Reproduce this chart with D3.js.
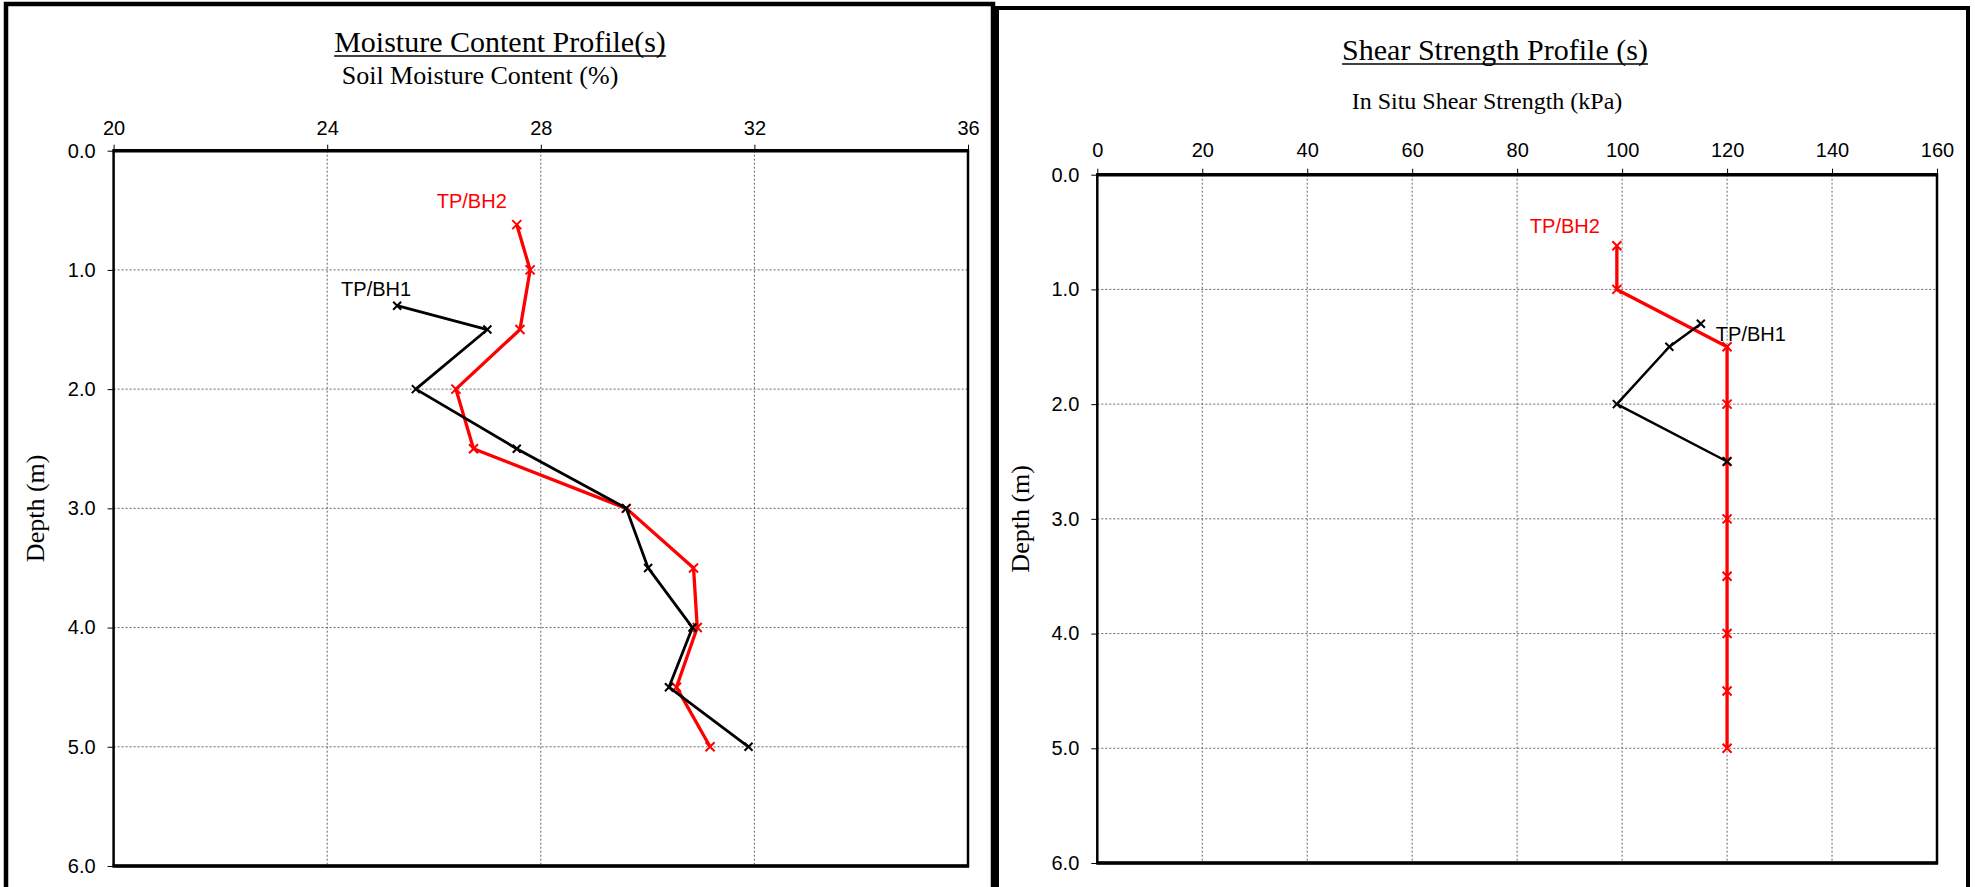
<!DOCTYPE html>
<html>
<head>
<meta charset="utf-8">
<script src="https://cdn.jsdelivr.net/npm/d3@7"></script>
<style>
  body { margin: 0; background: #fff; }
  svg { display: block; }
  .tick text { font-family: "Liberation Sans", Arial, sans-serif; font-size: 20px; fill: #000; }
  .tick line { stroke: #000; stroke-width: 1; }
</style>
</head>
<body>
<svg id="chart"></svg>
<script>
// moisture content profiles (depth in m, moisture in %)
var moistDepthBH1 = [1.3, 1.5, 2.0, 2.5, 3.0, 3.5, 4.0, 4.5, 5.0];
var moistBH1 = [25.31, 27.0, 25.66, 27.55, 29.6, 30.01, 30.84, 30.4, 31.89];
var moistDepthBH2 = [0.62, 1.0, 1.5, 2.0, 2.5, 3.0, 3.5, 4.0, 4.5, 5.0];
var moistBH2 = [27.55, 27.8, 27.61, 26.41, 26.74, 29.6, 30.86, 30.93, 30.54, 31.17];

// shear strength profiles (depth in m, strength in kPa)
var shearDepthBH1 = [1.3, 1.5, 2.0, 2.5];
var shearBH1 = [115, 109, 99, 120];
var shearDepthBH2 = [0.62, 1.0, 1.5, 2.0, 2.5, 3.0, 3.5, 4.0, 4.5, 5.0];
var shearBH2 = [99, 99, 120, 120, 120, 120, 120, 120, 120, 120];

var moistTicks = [20, 24, 28, 32, 36];
var shearTicks = [0, 20, 40, 60, 80, 100, 120, 140, 160];
var depthTicks = [0, 1, 2, 3, 4, 5, 6];

const W = 1975, H = 887;
const svg = d3.select("#chart").attr("width", W).attr("height", H);

// panel frames
svg.append("rect").attr("x", 6).attr("y", 4).attr("width", 987).attr("height", 1000)
  .attr("fill", "none").attr("stroke", "#000").attr("stroke-width", 4.5);
svg.append("rect").attr("x", 997).attr("y", 8).attr("width", 971).attr("height", 1000)
  .attr("fill", "none").attr("stroke", "#000").attr("stroke-width", 4);

function zip(xs, ys) {
  return xs.map(function (v, i) { return { v: v, d: ys[i] }; });
}

function drawProfile(opt) {
  var x = d3.scaleLinear().domain(opt.xDomain).range([opt.left, opt.right]);
  var y = d3.scaleLinear().domain([0, 6]).range([opt.top, opt.bottom]);
  var g = svg.append("g");

  // dotted grid
  g.selectAll("line.vgrid").data(opt.xTicks.slice(1, -1)).enter().append("line")
    .attr("x1", d => x(d)).attr("x2", d => x(d))
    .attr("y1", opt.top).attr("y2", opt.bottom)
    .attr("stroke", "#666").attr("stroke-width", 1).attr("stroke-dasharray", "2,2");
  g.selectAll("line.hgrid").data(depthTicks.slice(1, -1)).enter().append("line")
    .attr("x1", opt.left).attr("x2", opt.right)
    .attr("y1", d => y(d)).attr("y2", d => y(d))
    .attr("stroke", "#666").attr("stroke-width", 1).attr("stroke-dasharray", "2,2");

  // axes
  var xa = g.append("g").attr("transform", "translate(0," + opt.top + ")")
    .call(d3.axisTop(x).tickValues(opt.xTicks).tickSize(6).tickPadding(opt.xPad).tickFormat(d3.format("d")));
  xa.select(".domain").remove();
  var ya = g.append("g").attr("transform", "translate(" + opt.left + ",0)")
    .call(d3.axisLeft(y).tickValues(depthTicks).tickSize(6).tickPadding(12).tickFormat(d3.format(".1f")));
  ya.select(".domain").remove();

  // plot frame
  g.append("rect").attr("x", opt.left).attr("y", opt.top)
    .attr("width", opt.right - opt.left).attr("height", opt.bottom - opt.top)
    .attr("fill", "none").attr("stroke", "#000").attr("stroke-width", 2.5);
  [opt.top, opt.bottom].forEach(function (yy) {
    g.append("line").attr("x1", opt.left - 1).attr("x2", opt.right + 1)
      .attr("y1", yy).attr("y2", yy).attr("stroke", "#000").attr("stroke-width", 3.5);
  });

  // titles (underline drawn as a plain line so descenders don't break it)
  var title = g.append("text").attr("x", opt.titleX).attr("y", opt.titleY)
    .attr("text-anchor", "middle")
    .style("font-family", "'Liberation Serif', 'Times New Roman', serif").style("font-size", "30px")
    .text(opt.title);
  var tb = title.node().getBBox();
  g.append("line").attr("x1", tb.x).attr("x2", tb.x + tb.width)
    .attr("y1", opt.titleY + 4).attr("y2", opt.titleY + 4)
    .attr("stroke", "#000").attr("stroke-width", 1.6);
  g.append("text").attr("x", opt.subX).attr("y", opt.subY)
    .attr("text-anchor", "middle")
    .style("font-family", "'Liberation Serif', 'Times New Roman', serif").style("font-size", opt.subSize + "px")
    .text(opt.subtitle);
  g.append("text")
    .attr("transform", "translate(" + opt.depthX + "," + ((opt.top + opt.bottom) / 2) + ") rotate(-90)")
    .attr("text-anchor", "middle").attr("dy", "0.35em")
    .style("font-family", "'Liberation Serif', 'Times New Roman', serif").style("font-size", "26px")
    .text("Depth (m)");

  var line = d3.line().x(p => x(p.v)).y(p => y(p.d));

  opt.series.forEach(function (s) {
    var pts = zip(s.values, s.depths);
    g.append("path").datum(pts).attr("d", line)
      .attr("fill", "none").attr("stroke", s.color).attr("stroke-width", s.width)
      .attr("stroke-linejoin", "round");
    g.selectAll(null).data(pts).enter().append("path")
      .attr("d", function (p) {
        var cx = x(p.v), cy = y(p.d), r = s.marker;
        return "M" + (cx - r) + "," + (cy - r) + "L" + (cx + r) + "," + (cy + r) +
          "M" + (cx - r) + "," + (cy + r) + "L" + (cx + r) + "," + (cy - r);
      })
      .attr("stroke", s.color).attr("stroke-width", 2).attr("fill", "none");
    var p0 = pts[0];
    g.append("text").attr("x", x(p0.v) + s.lx).attr("y", y(p0.d) + s.ly)
      .attr("text-anchor", s.anchor).attr("dy", "0.35em")
      .style("font-family", "'Liberation Sans', Arial, sans-serif").style("font-size", "20px")
      .attr("fill", s.color)
      .text(s.name);
  });
}

drawProfile({
  xDomain: [20, 36], xTicks: moistTicks, xPad: 10,
  left: 113.6, right: 968, top: 150.7, bottom: 866,
  title: "Moisture Content Profile(s)", titleX: 500, titleY: 52,
  subtitle: "Soil Moisture Content (%)", subX: 480, subY: 84, subSize: 26,
  depthX: 35,
  series: [
    { name: "TP/BH2", values: moistBH2, depths: moistDepthBH2, color: "#ff0000", width: 3.3, marker: 4.5, lx: -10, ly: -24, anchor: "end" },
    { name: "TP/BH1", values: moistBH1, depths: moistDepthBH1, color: "#000000", width: 2.8, marker: 4, lx: 14, ly: -17, anchor: "end" }
  ]
});

drawProfile({
  xDomain: [0, 160], xTicks: shearTicks, xPad: 12,
  left: 1097.3, right: 1937, top: 174.7, bottom: 863,
  title: "Shear Strength Profile (s)", titleX: 1495, titleY: 60,
  subtitle: "In Situ Shear Strength (kPa)", subX: 1487, subY: 109, subSize: 24,
  depthX: 1020,
  series: [
    { name: "TP/BH2", values: shearBH2, depths: shearDepthBH2, color: "#ff0000", width: 3.3, marker: 4.5, lx: -17, ly: -20, anchor: "end" },
    { name: "TP/BH1", values: shearBH1, depths: shearDepthBH1, color: "#000000", width: 2.5, marker: 4, lx: 15, ly: 10, anchor: "start" }
  ]
});
</script>
</body>
</html>
